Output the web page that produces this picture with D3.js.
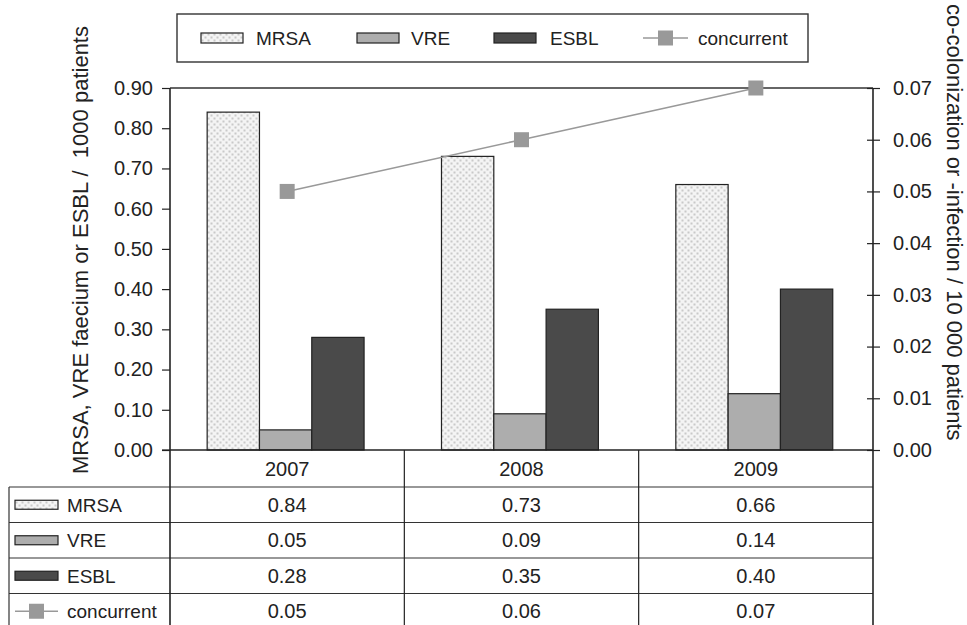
<!DOCTYPE html>
<html>
<head>
<meta charset="utf-8">
<script src="https://cdn.jsdelivr.net/npm/d3@7/dist/d3.min.js"></script>
<style>
  html, body { margin: 0; padding: 0; background: #fff; }
  svg { display: block; font-family: "Liberation Sans", Arial, Helvetica, sans-serif; }
</style>
</head>
<body>
<svg id="chart" width="967" height="625"></svg>
<script>
// Rates per year
const years = ["2007", "2008", "2009"];
const seriesNames = ["MRSA", "VRE", "ESBL"];
const mrsa = [0.84, 0.73, 0.66];
const vre = [0.05, 0.09, 0.14];
const esbl = [0.28, 0.35, 0.40];
const concurrent = [0.05, 0.06, 0.07];
const leftTicks = [0, 0.1, 0.2, 0.3, 0.4, 0.5, 0.6, 0.7, 0.8, 0.9];
const rightTicks = [0, 0.01, 0.02, 0.03, 0.04, 0.05, 0.06, 0.07];

const barValues = { MRSA: mrsa, VRE: vre, ESBL: esbl };
const fills = { MRSA: "url(#dots)", VRE: "#adadad", ESBL: "#4a4a4a" };

const svg = d3.select("#chart");
const numSize = 20;     // tick labels and table values
const keySize = 19;     // legend and row labels

// Dotted fill for MRSA
const defs = svg.append("defs");
const pat = defs.append("pattern").attr("id", "dots")
  .attr("patternUnits", "userSpaceOnUse").attr("width", 6).attr("height", 6);
pat.append("rect").attr("width", 6).attr("height", 6).attr("fill", "#f4f4f4");
pat.append("rect").attr("x", 0.5).attr("y", 0.5).attr("width", 2).attr("height", 2).attr("fill", "#c9c9c9");
pat.append("rect").attr("x", 3.5).attr("y", 3.5).attr("width", 2).attr("height", 2).attr("fill", "#c9c9c9");

// Plot frame
const plotLeft = 170, plotRight = 873, plotTop = 88, plotBottom = 450;
const x = d3.scaleBand().domain(years).range([plotLeft, plotRight]).padding(0);
const y = d3.scaleLinear().domain([0, 0.9]).range([plotBottom, plotTop]);
const y2 = d3.scaleLinear().domain([0, 0.07]).range([plotBottom, plotTop]);
const xs = d3.scaleBand().domain(seriesNames)
  .range([0, x.bandwidth()]).paddingInner(0).paddingOuter(0.74).align(0.48);

// Top frame line
svg.append("line").attr("x1", plotLeft).attr("x2", plotRight).attr("y1", plotTop).attr("y2", plotTop)
  .attr("stroke", "#333").attr("stroke-width", 1.6);

// Bars
years.forEach((yr, i) => {
  seriesNames.forEach(s => {
    const v = barValues[s][i];
    svg.append("rect")
      .attr("x", x(yr) + xs(s))
      .attr("y", y(v))
      .attr("width", xs.bandwidth())
      .attr("height", y(0) - y(v))
      .attr("fill", fills[s])
      .attr("stroke", "#222")
      .attr("stroke-width", 1.2);
  });
});

// Left axis
const yAxis = d3.axisLeft(y).tickValues(leftTicks).tickFormat(d3.format(".2f"))
  .tickSizeInner(8).tickSizeOuter(0).tickPadding(9);
const gy = svg.append("g").attr("transform", `translate(${plotLeft},0)`).call(yAxis);
gy.select(".domain").remove();
gy.selectAll("line").attr("stroke", "#222").attr("stroke-width", 1.2);
gy.selectAll("text").attr("font-size", numSize).attr("fill", "#222")
  .attr("font-family", "Liberation Sans, Arial, sans-serif");

// Right axis
const yAxis2 = d3.axisRight(y2).tickValues(rightTicks).tickFormat(d3.format(".2f"))
  .tickSizeInner(7).tickSizeOuter(0).tickPadding(13);
const gy2 = svg.append("g").attr("transform", `translate(${plotRight},0)`).call(yAxis2);
gy2.select(".domain").remove();
gy2.selectAll("line").attr("stroke", "#222").attr("stroke-width", 1.2).attr("x1", -6);
gy2.selectAll("text").attr("font-size", numSize).attr("fill", "#222")
  .attr("font-family", "Liberation Sans, Arial, sans-serif");

// Concurrent line
const line = d3.line()
  .x((d, i) => x(years[i]) + x.bandwidth() / 2)
  .y(d => y2(d));
svg.append("path").datum(concurrent).attr("d", line)
  .attr("fill", "none").attr("stroke", "#999").attr("stroke-width", 1.6);
svg.selectAll(".mk").data(concurrent).enter().append("rect").attr("class", "mk")
  .attr("x", (d, i) => x(years[i]) + x.bandwidth() / 2 - 7.5)
  .attr("y", d => y2(d) - 7.5)
  .attr("width", 15).attr("height", 15).attr("fill", "#999");

// Table
const tableLeft = 9, tableBottom = 625;
const headerBottom = 487, rowH = 35.5;
const rowLabels = ["MRSA", "VRE", "ESBL", "concurrent"];
const rowData = [mrsa, vre, esbl, concurrent];
const tg = svg.append("g");

// Horizontal rules
tg.append("line").attr("x1", plotLeft).attr("x2", plotRight).attr("y1", plotBottom).attr("y2", plotBottom)
  .attr("stroke", "#222").attr("stroke-width", 1.6);
for (let r = 0; r < 4; r++) {
  const yy = headerBottom + r * rowH;
  tg.append("line").attr("x1", tableLeft).attr("x2", plotRight).attr("y1", yy).attr("y2", yy)
    .attr("stroke", "#333").attr("stroke-width", 1.2);
}
// Vertical rules
tg.append("line").attr("x1", tableLeft).attr("x2", tableLeft).attr("y1", headerBottom).attr("y2", tableBottom)
  .attr("stroke", "#333").attr("stroke-width", 1.2);
[plotLeft, plotRight].forEach(xx => {
  tg.append("line").attr("x1", xx).attr("x2", xx).attr("y1", plotTop).attr("y2", tableBottom)
    .attr("stroke", "#222").attr("stroke-width", 1.6);
});
years.slice(1).forEach(yr => {
  tg.append("line").attr("x1", x(yr)).attr("x2", x(yr)).attr("y1", plotBottom).attr("y2", tableBottom)
    .attr("stroke", "#222").attr("stroke-width", 1.2);
});
// Left tick at the baseline
tg.append("line").attr("x1", plotLeft - 8).attr("x2", plotLeft).attr("y1", plotBottom).attr("y2", plotBottom)
  .attr("stroke", "#222").attr("stroke-width", 1.2);

// Year header
years.forEach(yr => {
  tg.append("text").attr("x", x(yr) + x.bandwidth() / 2).attr("y", (plotBottom + headerBottom) / 2)
    .attr("dy", "0.36em").attr("text-anchor", "middle").attr("font-size", numSize)
    .attr("fill", "#222").text(yr);
});

// Legend key drawer
function drawKey(g, name, kx, ky, w, h) {
  if (name === "concurrent") {
    g.append("line").attr("x1", kx).attr("x2", kx + w).attr("y1", ky).attr("y2", ky)
      .attr("stroke", "#999").attr("stroke-width", 1.6);
    g.append("rect").attr("x", kx + w / 2 - 7.5).attr("y", ky - 7.5)
      .attr("width", 15).attr("height", 15).attr("fill", "#999");
  } else {
    g.append("rect").attr("x", kx).attr("y", ky - h / 2).attr("width", w).attr("height", h)
      .attr("fill", fills[name]).attr("stroke", "#222").attr("stroke-width", 1.2);
  }
}

// Table rows
rowLabels.forEach((lab, r) => {
  const cy = headerBottom + r * rowH + rowH / 2;
  drawKey(tg, lab, 15, cy, 43, 9);
  tg.append("text").attr("x", 67).attr("y", cy).attr("dy", "0.36em")
    .attr("font-size", keySize).attr("fill", "#222").text(lab);
  rowData[r].forEach((v, i) => {
    tg.append("text").attr("x", x(years[i]) + x.bandwidth() / 2).attr("y", cy).attr("dy", "0.36em")
      .attr("text-anchor", "middle").attr("font-size", numSize).attr("fill", "#222")
      .text(d3.format(".2f")(v));
  });
});

// Top legend
const lg = svg.append("g");
lg.append("rect").attr("x", 177).attr("y", 14).attr("width", 631).attr("height", 48)
  .attr("fill", "#fff").attr("stroke", "#333").attr("stroke-width", 1.4);
const legendItems = [
  { name: "MRSA", kx: 201, tx: 256 },
  { name: "VRE", kx: 357, tx: 411 },
  { name: "ESBL", kx: 494, tx: 550 },
  { name: "concurrent", kx: 643, tx: 698 }
];
legendItems.forEach(it => {
  drawKey(lg, it.name, it.kx, 38, it.name === "concurrent" ? 45 : 42, 10);
  lg.append("text").attr("x", it.tx).attr("y", 38).attr("dy", "0.36em")
    .attr("font-size", keySize).attr("fill", "#222").text(it.name);
});

// Axis titles
svg.append("text")
  .attr("transform", "translate(88,250) rotate(-90)")
  .attr("text-anchor", "middle").attr("font-size", 22).attr("fill", "#222")
  .text("MRSA, VRE faecium or ESBL /\u00a0 1000 patients");
svg.append("text")
  .attr("transform", "translate(947,4) rotate(90)")
  .attr("text-anchor", "start").attr("font-size", 22).attr("fill", "#222")
  .text("co-colonization or -infection / 10 000 patients");
</script>
</body>
</html>
